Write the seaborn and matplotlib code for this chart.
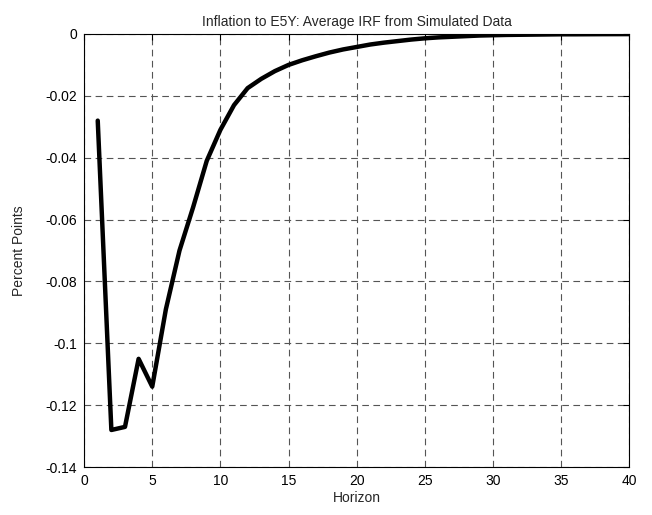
import matplotlib
matplotlib.use("Agg")
import matplotlib.pyplot as plt
import seaborn as sns
import numpy as np
import pandas as pd

# ── Data ──────────────────────────────────────────────────────────────────
horizon = list(range(1, 41))
irf = [-0.028, -0.128, -0.127, -0.105, -0.114, -0.089, -0.070, -0.056,
       -0.041, -0.031, -0.023, -0.0175, -0.0145, -0.012, -0.010, -0.0085,
       -0.0072, -0.006, -0.005, -0.0042, -0.0034, -0.0028, -0.0023, -0.0018,
       -0.0014, -0.0011, -0.0009, -0.0007, -0.0005, -0.0004, -0.0003,
       -0.00025, -0.0002, -0.00015, -0.0001, -0.0001, -0.00008, -0.00006,
       -0.00005, -0.00004]
xticks = [0, 5, 10, 15, 20, 25, 30, 35, 40]
yticks = [-0.14, -0.12, -0.1, -0.08, -0.06, -0.04, -0.02, 0]
ytick_labels = ["-0.14", "-0.12", "-0.1", "-0.08", "-0.06", "-0.04", "-0.02", "0"]

df = pd.DataFrame({"Horizon": horizon, "IRF": irf})

sns.set_style("white")
plt.rcParams["font.family"] = ["Liberation Sans", "DejaVu Sans"]

fig = plt.figure(figsize=(6.52, 5.15), dpi=100)
ax = fig.add_axes([0.129, 0.093, 0.836, 0.841])

sns.lineplot(data=df, x="Horizon", y="IRF", color="black", linewidth=3.2, ax=ax)

ax.set_xlim(0, 40)
ax.set_ylim(-0.14, 0)
ax.set_xticks(xticks)
ax.set_yticks(yticks)
ax.set_yticklabels(ytick_labels)
ax.grid(True, linestyle=(0, (6, 4)), color="#555555", linewidth=0.8)
ax.tick_params(direction="in", length=4, labelsize=10, colors="black",
               top=True, right=True, pad=5)
for s in ax.spines.values():
    s.set_color("black")
    s.set_linewidth(0.8)

ax.set_title("Inflation to E5Y: Average IRF from Simulated Data", fontsize=10, pad=6)
ax.set_xlabel("Horizon", fontsize=10, labelpad=2)
ax.set_ylabel("Percent Points", fontsize=10, labelpad=14)

fig.savefig("out.png", dpi=100, facecolor="white")
